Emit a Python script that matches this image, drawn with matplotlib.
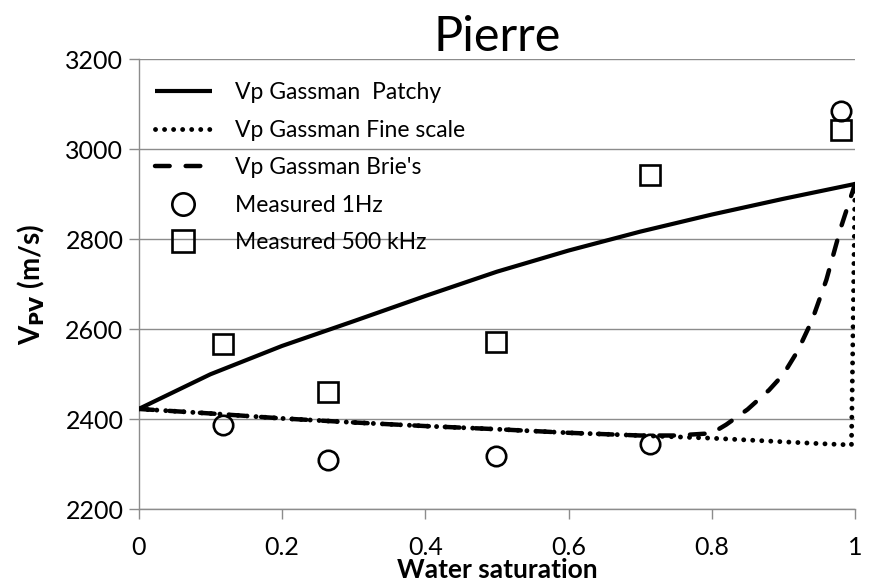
import matplotlib
matplotlib.use("Agg")
import matplotlib.pyplot as plt

plt.rcParams['font.family'] = ['Lato', 'DejaVu Sans']

# Model curves
sw_patchy = [0.0, 0.1, 0.2, 0.3, 0.4, 0.5, 0.6, 0.7, 0.8, 0.9, 1.0]
vp_patchy = [2423, 2500, 2563, 2618, 2674, 2728, 2775, 2817, 2855, 2890, 2923]

sw_fine = [0.0, 0.1, 0.2, 0.3, 0.4, 0.5, 0.6, 0.7, 0.8, 0.9, 0.95, 0.995, 1.0]
vp_fine = [2423, 2413, 2402, 2393, 2385, 2378, 2370, 2364, 2358, 2350, 2346, 2343, 2923]

sw_brie = [0.0, 0.1, 0.2, 0.3, 0.4, 0.5, 0.6, 0.7, 0.75, 0.8, 0.82, 0.85, 0.88,
           0.9, 0.92, 0.94, 0.96, 0.98, 1.0]
vp_brie = [2423, 2413, 2402, 2393, 2385, 2378, 2370, 2364, 2364, 2369, 2388, 2422,
           2465, 2500, 2552, 2620, 2710, 2825, 2923]

# Measurements
sw_meas = [0.117, 0.264, 0.499, 0.714, 0.98]
vp_1hz = [2388, 2310, 2318, 2346, 3086]
vp_500khz = [2567, 2461, 2572, 2944, 3044]

x_ticks = [0, 0.2, 0.4, 0.6, 0.8, 1]
x_ticklabels = ['0', '0.2', '0.4', '0.6', '0.8', '1']
y_ticks = [2200, 2400, 2600, 2800, 3000, 3200]

fig = plt.figure(figsize=(8.74, 5.82), dpi=100)
ax = fig.add_axes([0.1587, 0.1249, 0.8196, 0.7732])

ax.plot(sw_patchy, vp_patchy, color='black', lw=3.0, solid_capstyle='butt',
        label='Vp Gassman  Patchy', zorder=3)
ax.plot(sw_fine, vp_fine, color='black', lw=3.5, linestyle=(0, (0.01, 1.85)),
        dash_capstyle='round', label='Vp Gassman Fine scale', zorder=3)
ax.plot(sw_brie, vp_brie, color='black', lw=3.2, linestyle=(0, (3.3, 3.6)),
        dash_capstyle='round', label="Vp Gassman Brie's", zorder=3)
ax.plot(sw_meas, vp_1hz, linestyle='none', marker='o', ms=14, mfc='none',
        mec='black', mew=1.9, label='Measured 1Hz', zorder=4)
ax.plot(sw_meas, vp_500khz, linestyle='none', marker='s', ms=14, mfc='none',
        mec='black', mew=1.9, label='Measured 500 kHz', zorder=4)

ax.set_xlim(0, 1)
ax.set_ylim(2200, 3200)
ax.set_xticks(x_ticks)
ax.set_xticklabels(x_ticklabels)
ax.set_yticks(y_ticks)

ax.grid(axis='y', color='#8c8c8c', lw=1.0)
ax.set_axisbelow(True)
for s in ['top', 'right']:
    ax.spines[s].set_visible(False)
for s in ['left', 'bottom']:
    ax.spines[s].set_color('#8c8c8c')
    ax.spines[s].set_linewidth(1.0)
ax.tick_params(axis='both', direction='out', length=7, width=1.0,
               color='#8c8c8c', labelsize=18, pad=4)
ax.tick_params(axis='x', pad=12)

ax.set_title('Pierre', fontsize=35, pad=6)
ax.set_xlabel('Water saturation', fontsize=19, fontweight='bold')
ax.xaxis.set_label_coords(0.5, -0.108)
ax.xaxis.label.set_verticalalignment('top')
ax.set_ylabel(r'V$_{\mathbf{PV}}$ (m/s)', fontsize=20, fontweight='bold')
ax.yaxis.set_label_coords(-0.128, 0.5)

leg = ax.legend(loc='upper left', bbox_to_anchor=(0.0, 0.985), frameon=False,
                fontsize=16.5, handlelength=2.5, handletextpad=1.0,
                labelspacing=0.72, borderaxespad=0.3, markerscale=1.15)

fig.savefig('out.png', dpi=100)
